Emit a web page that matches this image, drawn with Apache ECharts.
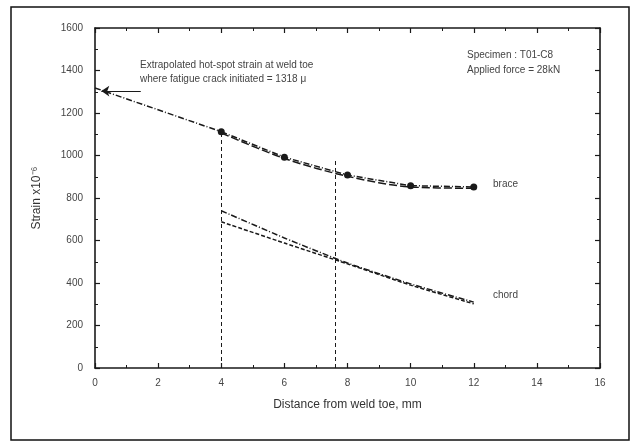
<!DOCTYPE html>
<html>
<head>
<meta charset="utf-8">
<script src="https://cdn.jsdelivr.net/npm/echarts@6/dist/echarts.min.js"></script>
<style>
  html, body { margin: 0; padding: 0; background: #fff; }
  #chart { width: 632px; height: 443px; }
</style>
</head>
<body>
<div id="chart"></div>
<script>
// 数据
const distance = [4, 6, 8, 10, 12];
const braceStrain = [1112, 992, 908, 858, 852];
const chordUpper = [740, 612, 494, 396, 310];
const chordLower = [688, 588, 490, 390, 302];
const extrapX = [0, 4];
const extrapY = [1318, 1112];
const refLinesX = [4, 7.6];
const refLinesTop = [1112, 980];

const pairs = (xs, ys) => xs.map((x, i) => [x, ys[i]]);

const chart = echarts.init(document.getElementById('chart'));
const font = 'Liberation Sans, Arial, sans-serif';
const ink = '#1a1a1a';

const axisCommon = {
    type: 'value',
    axisLine: { show: true, onZero: false, lineStyle: { color: ink, width: 1.6 } },
    axisTick: { show: true, inside: true, length: 5, lineStyle: { color: ink, width: 1.2 } },
    minorTick: { show: true, splitNumber: 2, length: 3, lineStyle: { color: ink } },
    splitLine: { show: false },
    axisLabel: { color: '#444', fontSize: 10, fontFamily: font, formatter: v => String(v) }
};

chart.setOption({
    animation: false,
    backgroundColor: '#fff',
    grid: { left: 95, right: 32, top: 28, bottom: 75 },
    xAxis: [
        Object.assign({}, axisCommon, {
            min: 0, max: 16, interval: 2, position: 'bottom',
            axisLabel: Object.assign({}, axisCommon.axisLabel, { margin: 10 }),
            name: 'Distance from weld toe, mm', nameLocation: 'middle', nameGap: 31,
            nameTextStyle: { color: '#333', fontSize: 12, fontFamily: font }
        }),
        Object.assign({}, axisCommon, {
            min: 0, max: 16, interval: 2, position: 'top',
            axisLabel: { show: false }
        })
    ],
    yAxis: [
        Object.assign({}, axisCommon, {
            min: 0, max: 1600, interval: 200, position: 'left',
            axisLabel: Object.assign({}, axisCommon.axisLabel, { margin: 12 }),
            name: 'Strain x10\u207B\u2076', nameLocation: 'middle', nameGap: 52,
            nameTextStyle: { color: '#333', fontSize: 12, fontFamily: font }
        }),
        Object.assign({}, axisCommon, {
            min: 0, max: 1600, interval: 200, position: 'right',
            axisLabel: { show: false }
        })
    ],
    series: [
        {
            // 外推线
            type: 'line', data: pairs(extrapX, extrapY), symbol: 'none',
            lineStyle: { color: ink, width: 1.5, type: [6, 2, 1, 2] },
            markLine: {
                silent: true, symbol: ['none', 'arrow'], symbolSize: 8,
                label: { show: false },
                lineStyle: { color: ink, width: 1, type: 'solid' },
                data: [[{ coord: [1.45, 1303] }, { coord: [0.2, 1303] }]]
            }
        },
        {
            // brace 实测
            type: 'line', data: pairs(distance, braceStrain),
            symbol: 'circle', symbolSize: 7,
            itemStyle: { color: ink },
            lineStyle: { color: ink, width: 1.5, type: [6, 2, 1, 2] },
            markLine: {
                silent: true, symbol: 'none', label: { show: false },
                lineStyle: { color: ink, width: 1, type: [4, 3] },
                data: refLinesX.map((x, i) => [{ coord: [x, 0] }, { coord: [x, refLinesTop[i]] }])
            }
        },
        {
            // brace 拟合
            type: 'line', data: pairs(distance, braceStrain.map(v => v - 6)), symbol: 'none', smooth: 0.3,
            lineStyle: { color: ink, width: 1.5, type: [8, 3] }
        },
        {
            type: 'line', data: pairs(distance, chordUpper), symbol: 'none', smooth: 0.2,
            lineStyle: { color: ink, width: 1.5, type: [6, 2, 1, 2] }
        },
        {
            type: 'line', data: pairs(distance, chordLower), symbol: 'none', smooth: 0.2,
            lineStyle: { color: ink, width: 1.5, type: [4, 2] }
        }
    ],
    graphic: [
        {
            type: 'rect',
            shape: { x: 11, y: 7, width: 618, height: 433 },
            style: { fill: 'none', stroke: '#111', lineWidth: 1.5 }
        },
        {
            type: 'text', left: 140, top: 58,
            style: {
                text: 'Extrapolated hot-spot strain at weld toe\nwhere fatigue crack initiated = 1318 \u03BC',
                fill: '#444', font: '10px ' + font, lineHeight: 14
            }
        },
        {
            type: 'text', left: 467, top: 48,
            style: {
                text: 'Specimen : T01-C8\nApplied force = 28kN',
                fill: '#444', font: '10px ' + font, lineHeight: 15
            }
        },
        { type: 'text', left: 493, top: 179, style: { text: 'brace', fill: '#444', font: '10px ' + font } },
        { type: 'text', left: 493, top: 290, style: { text: 'chord', fill: '#444', font: '10px ' + font } }
    ]
});
</script>
</body>
</html>
